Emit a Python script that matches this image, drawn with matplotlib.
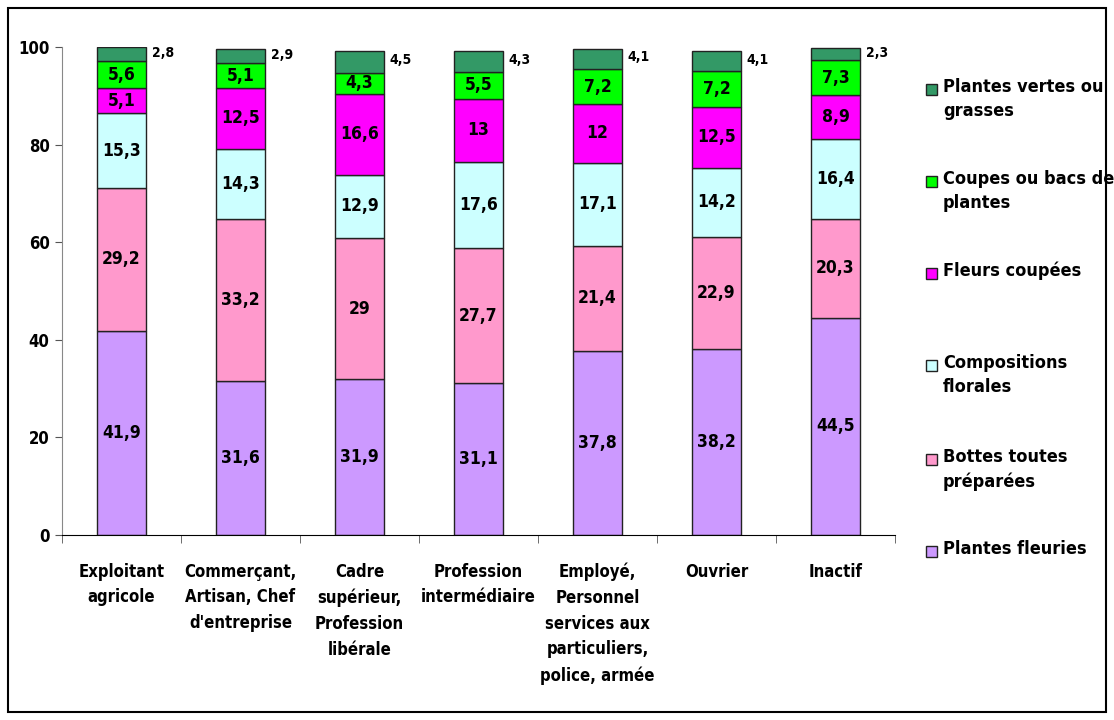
import matplotlib
matplotlib.use("Agg")
import matplotlib.pyplot as plt
from matplotlib.patches import Rectangle
import numpy as np

plt.rcParams['font.family'] = ['DejaVu Sans']
plt.rcParams['font.stretch'] = 'condensed'
plt.rcParams['font.weight'] = 'bold'

categories = ["Exploitant\nagricole", "Commerçant,\nArtisan, Chef\nd'entreprise",
              "Cadre\nsupérieur,\nProfession\nlibérale", "Profession\nintermédiaire",
              "Employé,\nPersonnel\nservices aux\nparticuliers,\npolice, armée",
              "Ouvrier", "Inactif"]
series_names = ["Plantes fleuries", "Bottes toutes\npréparées", "Compositions\nflorales",
                "Fleurs coupées", "Coupes ou bacs de\nplantes", "Plantes vertes ou\ngrasses"]
plantes_fleuries = [41.9, 31.6, 31.9, 31.1, 37.8, 38.2, 44.5]
bottes = [29.2, 33.2, 29.0, 27.7, 21.4, 22.9, 20.3]
compositions = [15.3, 14.3, 12.9, 17.6, 17.1, 14.2, 16.4]
fleurs_coupees = [5.1, 12.5, 16.6, 13.0, 12.0, 12.5, 8.9]
coupes = [5.6, 5.1, 4.3, 5.5, 7.2, 7.2, 7.3]
plantes_vertes = [2.8, 2.9, 4.5, 4.3, 4.1, 4.1, 2.3]
series = [plantes_fleuries, bottes, compositions, fleurs_coupees, coupes, plantes_vertes]
colors = ["#CC99FF", "#FF99CC", "#CCFFFF", "#FF00FF", "#00FF00", "#339966"]

def fmt(v):
    s = f"{v:.1f}".replace(".", ",")
    if s.endswith(",0"):
        s = s[:-2]
    return s

fig = plt.figure(figsize=(11.14, 7.2), dpi=100)
fig.add_artist(Rectangle((8/1114, 8/720), 1098/1114, 704/720, transform=fig.transFigure,
                         fill=False, edgecolor='black', linewidth=1.5))
ax = fig.add_axes([62/1114, 185/720, 833/1114, 488/720])

x = np.arange(len(categories))
width = 0.41
bottom = np.zeros(len(categories))
for i, (vals, col) in enumerate(zip(series, colors)):
    vals = np.array(vals)
    ax.bar(x, vals, width, bottom=bottom, color=col, edgecolor='#222222', linewidth=1.0)
    for j, v in enumerate(vals):
        if i == len(series) - 1:
            ax.text(x[j] + width/2 + 0.05, bottom[j] + v/2 + 0.3, fmt(v), ha='left', va='center',
                    fontsize=10, fontweight='bold')
        else:
            ax.text(x[j], bottom[j] + v/2, fmt(v), ha='center', va='center',
                    fontsize=12.5, fontweight='bold')
    bottom += vals

ax.set_xlim(-0.5, len(categories) - 0.5)
ax.set_ylim(0, 100)
ax.set_yticks([0, 20, 40, 60, 80, 100])
ax.set_yticklabels(["0", "20", "40", "60", "80", "100"], fontsize=12, fontweight='bold')
ax.set_xticks(x)
ax.set_xticklabels(categories, fontsize=12, fontweight='bold', va='top', linespacing=1.55)
ax.set_xticks(np.arange(len(categories) + 1) - 0.5, minor=True)
ax.tick_params(axis='x', which='major', length=0, pad=20)
ax.tick_params(axis='x', which='minor', length=6, direction='out', color='#555555')
ax.tick_params(axis='y', length=5, direction='out', color='#555555', pad=4)
for s in ['top', 'right']:
    ax.spines[s].set_visible(False)
ax.spines['left'].set_color('#888888')
ax.spines['bottom'].set_color('black')

# legend
leg_items = list(zip(series_names, colors))[::-1]
leg_y = [89, 181, 273, 365, 459, 551]
for (name, col), yc in zip(leg_items, leg_y):
    fig.add_artist(Rectangle((926/1114, 1 - (yc + 6)/720), 11/1114, 11/720,
                             transform=fig.transFigure, facecolor=col, edgecolor='#222222', linewidth=1))
    fig.text(943/1114, 1 - (yc - 11)/720, name, ha='left', va='top', fontsize=13, fontweight='bold',
             linespacing=1.45)

fig.savefig("out.png", dpi=100)
